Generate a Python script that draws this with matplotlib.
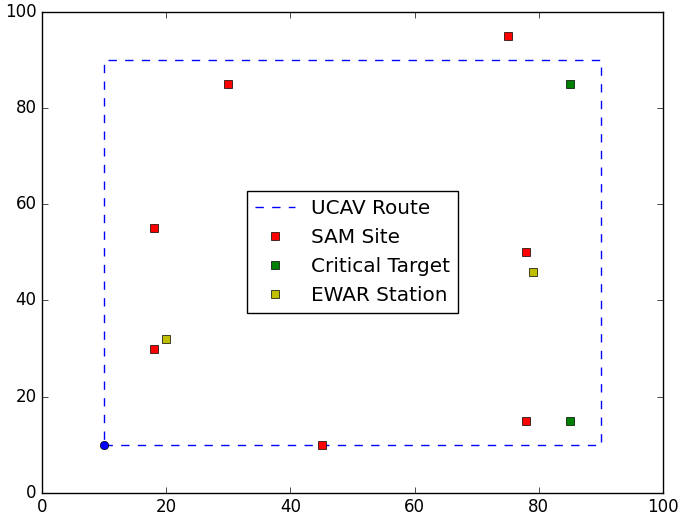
import matplotlib
matplotlib.use("Agg")
import matplotlib.pyplot as plt

plt.style.use('classic')

# route waypoints
route_x = [10, 90, 90, 10, 10]
route_y = [10, 10, 90, 90, 10]
# start point
start_x = [10]
start_y = [10]
# threats / targets
sam_x = [75, 30, 18, 78, 18, 78, 45]
sam_y = [95, 85, 55, 50, 30, 15, 10]
target_x = [85, 85]
target_y = [85, 15]
ewar_x = [79, 20]
ewar_y = [46, 32]

fig = plt.figure(figsize=(6.8, 5.16), dpi=100)
ax = fig.add_axes([0.062, 0.045, 0.913, 0.932])

ax.plot(route_x, route_y, 'b--', label='UCAV Route')
ax.plot(start_x, start_y, 'bo')
ax.plot(sam_x, sam_y, 'rs', label='SAM Site', markeredgewidth=0.5)
ax.plot(target_x, target_y, 'gs', label='Critical Target', markeredgewidth=0.5)
ax.plot(ewar_x, ewar_y, 'ys', label='EWAR Station', markeredgewidth=0.5)

ax.set_xlim(0, 100)
ax.set_ylim(0, 100)
ax.legend(loc='center', numpoints=1)

fig.savefig('out.png', dpi=100)
